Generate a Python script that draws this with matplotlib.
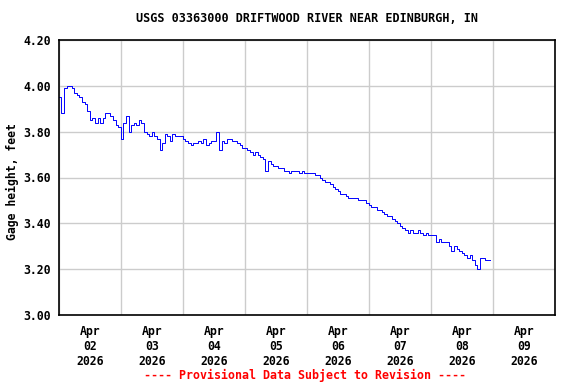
"""
USGS gage height plot – Driftwood River near Edinburgh, IN.
"""
import matplotlib
matplotlib.use("Agg")
import matplotlib.pyplot as plt
import matplotlib.dates as mdates
import pandas as pd

# hourly gage height (feet), one row per day
apr02 = [3.95, 3.88, 3.99, 4.00, 4.00, 3.99, 3.97, 3.96, 3.95, 3.93, 3.92, 3.89,
         3.85, 3.86, 3.84, 3.86, 3.84, 3.86, 3.88, 3.88, 3.87, 3.85, 3.83, 3.82]
apr03 = [3.77, 3.84, 3.87, 3.80, 3.83, 3.84, 3.83, 3.85, 3.84, 3.80, 3.79, 3.78,
         3.80, 3.78, 3.77, 3.72, 3.75, 3.79, 3.78, 3.76, 3.79, 3.78, 3.78, 3.78]
apr04 = [3.77, 3.76, 3.75, 3.74, 3.75, 3.75, 3.76, 3.75, 3.77, 3.74, 3.75, 3.76,
         3.76, 3.80, 3.72, 3.76, 3.75, 3.77, 3.77, 3.76, 3.76, 3.75, 3.74, 3.73]
apr05 = [3.73, 3.72, 3.71, 3.70, 3.71, 3.70, 3.69, 3.68, 3.63, 3.67, 3.66, 3.65,
         3.65, 3.64, 3.64, 3.63, 3.63, 3.62, 3.63, 3.63, 3.63, 3.62, 3.63, 3.62]
apr06 = [3.62, 3.62, 3.62, 3.61, 3.61, 3.60, 3.59, 3.58, 3.58, 3.57, 3.56, 3.55,
         3.54, 3.53, 3.53, 3.52, 3.51, 3.51, 3.51, 3.51, 3.50, 3.50, 3.50, 3.49]
apr07 = [3.48, 3.47, 3.47, 3.46, 3.46, 3.45, 3.44, 3.43, 3.43, 3.42, 3.41, 3.40,
         3.39, 3.38, 3.37, 3.36, 3.37, 3.36, 3.36, 3.37, 3.36, 3.35, 3.36, 3.35]
apr08 = [3.35, 3.35, 3.32, 3.33, 3.32, 3.32, 3.32, 3.30, 3.28, 3.30, 3.29, 3.28,
         3.27, 3.26, 3.25, 3.26, 3.24, 3.22, 3.20, 3.25, 3.25, 3.24, 3.24, 3.24]

gage = apr02 + apr03 + apr04 + apr05 + apr06 + apr07 + apr08
times = pd.date_range("2026-04-02 00:00", periods=len(gage), freq="h")

y_ticks = [3.00, 3.20, 3.40, 3.60, 3.80, 4.00, 4.20]
x_start = pd.Timestamp("2026-04-02")
x_end = pd.Timestamp("2026-04-10")

title = "USGS 03363000 DRIFTWOOD RIVER NEAR EDINBURGH, IN"
y_label = "Gage height, feet"
footer = "---- Provisional Data Subject to Revision ----"

FONT = "DejaVu Sans Mono"
FS = 8.3

fig = plt.figure(figsize=(5.76, 3.84), dpi=100, facecolor="white")
ax = fig.add_axes([58.8 / 576, 1 - 315 / 384, 496 / 576, 275 / 384])

ax.plot(times, gage, color="#0000ff", lw=0.7, drawstyle="steps-post")

ax.set_xlim(x_start, x_end)
ax.set_ylim(y_ticks[0], y_ticks[-1])
ax.set_yticks(y_ticks)
ax.set_yticklabels([f"{v:.2f}" for v in y_ticks])

# grid on midnight, labels at noon
ax.xaxis.set_major_locator(mdates.DayLocator())
ax.xaxis.set_major_formatter(plt.NullFormatter())
ax.xaxis.set_minor_locator(mdates.HourLocator(byhour=12))
ax.xaxis.set_minor_formatter(mdates.DateFormatter("%b\n%d\n%Y"))

ax.grid(True, which="major", color="#cccccc", lw=1.0)
ax.set_axisbelow(True)
ax.tick_params(which="both", length=0)
ax.tick_params(axis="x", which="minor", pad=7)
ax.tick_params(axis="y", pad=6)
for lbl in ax.get_yticklabels() + ax.xaxis.get_minorticklabels():
    lbl.set_family(FONT)
    lbl.set_fontweight("bold")
    lbl.set_fontsize(FS)

for sp in ax.spines.values():
    sp.set_color("black")
    sp.set_linewidth(1.2)

fig.text(306.8 / 576, 1 - 19 / 384, title, ha="center", va="center",
         family=FONT, fontweight="bold", fontsize=8.5)
fig.text(12 / 576, 1 - 182 / 384, y_label, ha="center", va="center",
         rotation=90, family=FONT, fontweight="bold", fontsize=FS)
fig.text(305.5 / 576, 1 - 375 / 384, footer, ha="center", va="center",
         family=FONT, fontweight="bold", fontsize=8.4, color="#ff0000")

fig.savefig("out.png", dpi=100, facecolor="white")
plt.close(fig)
